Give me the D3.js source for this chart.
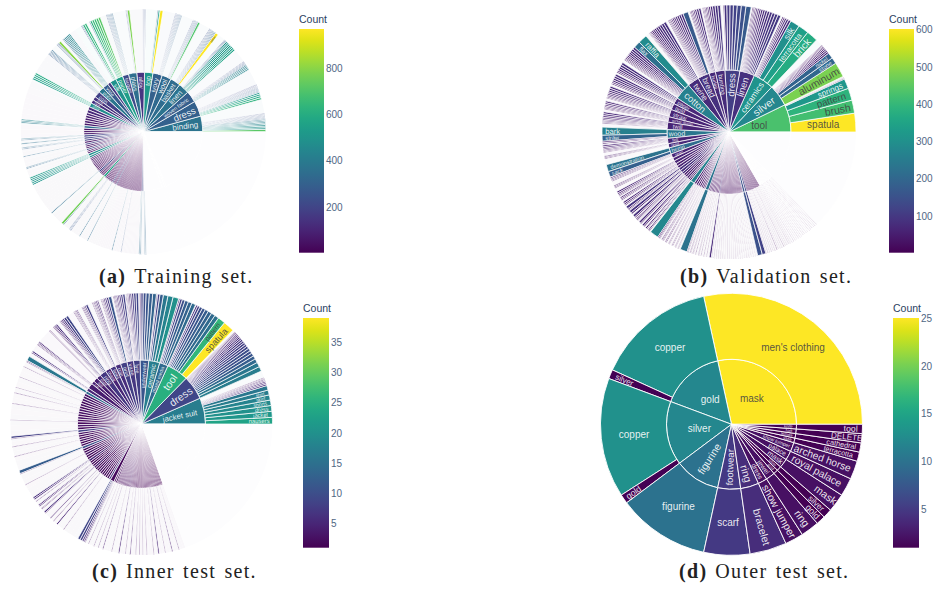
<!DOCTYPE html>
<html>
<head>
<meta charset="utf-8">
<script src="https://cdnjs.cloudflare.com/ajax/libs/d3/7.8.5/d3.min.js"></script>
<style>
  html, body { margin: 0; padding: 0; background: #fff; }
  text { font-family: "Liberation Sans", Arial, sans-serif; }
  .caption { font-family: "Liberation Serif", serif; font-size: 20px; fill: #222; letter-spacing: 1.3px; word-spacing: 2px; }
  .cbar text { font-size: 10px; fill: #506784; }
  .cbar-title { font-size: 10.5px; fill: #2a3f5f; }
</style>
</head>
<body>
<svg id="chart" width="935" height="589"></svg>
<script>
// every parent: name, count (colour), total (angle), visible leaves.
// whatever is left of total is the long tail of tiny labels, drawn as one pale wedge
const trainNames = ["binding","dress","woven fabric","linen","basket","wool","ivory","top","alloy","glass","lacquer","paper","silk","bowl","vase","plate","coin","print","lace","shoe","hat","belt","ring","mask","tile","cup","doll","comb","jar","box","fan"];
const trainCounts = [370,300,290,370,340,330,300,520,150,350,220,540,490,160,280,380,190,140,130,470,120,110,90,85,75,70,65,330,60,55,60,
  200,190,180,50,180,50,45,220,45,40,480,470,50,45,
  40,38,42,36,35,40,34,32,36,210,30,28,26,28,570,24,26,22,22,20,18,20,200,18,17,16,210,
  15,15,14,14,13,13,12,12,11,11,11,10,10,10,12,10,10,9,9,9,9,8,8,8,7,7,7,8,7,7,7,6,6,6,6,200,180,
  null,null,null,null];
const trainTotals = [9750,9750,7150,6825,6500,5850,5850,5200,4875,5200,3900,4550,3900,1950,3575,3575,3900,2275,2275,2600,1950,1950,1625,1625,1625,1625,1625,1625,1430,1430,1365,
  1430,1300,1300,1300,1170,1170,1105,1105,1040,1105,1300,1300,975,975,
  845,845,845,845,845,845,845,845,845,1170,780,780,780,780,1430,780,780,780,715,715,715,715,780,650,650,650,650,
  520,520,520,520,520,520,520,520,520,520,520,520,520,520,520,455,455,455,455,455,390,390,390,390,390,390,390,390,390,390,390,390,390,390,390,650,650,
  11700,1800,800,43000];
const trainLeaves = [
  [720,500,480,470,440,420,400,380,300,280,270,260,250,240,230],
  [620,590,560,520,300,290,280,270,260,250,240,230,220,210],
  [440,430,420,410,300,280,260,240,230],
  [560,550,540,530,520,510,500,300,280,260],
  [970,330,310,300,290,280,270,260,250],
  [700,300,290,280,270,260,250],
  [310,300,290,280,270,260,250,240],
  [960,540,260],
  [260,250,240,230],
  [780,260,250],
  [330,320,310,300,290,280,270],
  [720,690,660,650,620,300],
  [640,620,300,280],
  [],
  [450,440,430,420,400,380,300],
  [800,290,280,270],
  [330,320,310,300,290,280],
  [],[],
  [590,570,560,540],
  [],[],[],[],[],[],[],
  [440,420,400],
  [],[],[],
  [360,330],[350],[340,300],[],[330],[],[],[340,310],[],[],
  [530,510,500],[520,500],[],[],
  [],[],[],[],[],[],[],[],[],[340],[],[],[],[],[760,300],[],[],[270,260,250],[],[],[],[],[340],[],[],[],[330],
  [],[],[],[],[],[],[],[],[],[],[],[],[],[],[330],[],[],[],[],[],[250],[],[],[],[],[],[],[],[],[],[],[],[],[],[340],[340],
  [],[320,320],[],[]
];
const trainLeafNames = [["earthenware"],[],[],[],["saber"],[],[],["woodblock painting"],[],["ceramic"]];

const validNames = ["tool","silver","ceramics","linen","dress","bunting","burlap","bread","twine","cotton","paper","gold","straw","wicker design","twill","wood","felt","reed","hemp","pearl","jade"];
const validCounts = [430,280,310,85,110,75,70,85,75,260,70,65,60,55,60,240,60,70,210,60,55,
  60,50,55,80,80,75,45,50,50,40,40,260,45,40,40,35,35,30,30,230,30,30,30,28,28,26,26,25,70,
  20,20,20,18,18,18,18,18,18,18,16,16,16,16,16,16,14,14,14,14,14,150,120,
  14,14,14,12,12,12,12,12,10,10,10,10,10,10,10,null,null,null,null,null,null,null,null,null,null,null,null,null,null,null,null,null,null];
const validTotals = [1820,1435,1365,980,980,630,420,770,770,1120,420,420,490,350,490,570,350,280,420,280,210,
  210,175,175,175,175,140,140,140,140,105,105,280,140,130,120,120,110,100,90,210,90,90,90,90,90,90,90,90,80,
  70,70,70,70,70,70,70,70,70,70,70,70,70,70,70,70,70,70,70,70,70,150,120,
  60,60,60,60,60,60,60,60,60,60,60,60,60,60,60,60,60,60,60,60,60,60,60,60,60,60,60,60,60,60,60,60,3200];
const validLeaves = [
  [600,420,390,320,30,20,15],
  [480,200,190,60,55,50,45,40,35,30,25],
  [370,340,300,80,70,60,50,45],
  [100,95,90,85,80,75,70,65,60,55,50,45,40,35],
  [170,150,130,120,110,100,90,30],
  [90,85,80,70,60,50,45,40,35,30],
  [75,70,60,50,45,40,30],
  [170,75,70,65,60,55,50,45,40,35,30],
  [85,80,75,70,65,60,55,50,40,30,25,20],
  [290,220,75,70,65,60,55,50,45,40,35,30],
  [80,75,70,60,50,40],
  [75,70,65,60,50,40],
  [70,65,60,55,50,45,40,30],
  [60,55,50,45,40,30],
  [65,60,55,50,45,40,35,30],
  [260,190,50,40],
  [55,50,45,40,35,30],
  [40,35,30],
  [230,180],
  [45,40,35,30],
  [40,35,30],
  [60,50,40,30],[50,40,35],[60,50,35],[90,45,30],[85,50],[80,40],[45,35,25],[70,35],[65,40],[50,30],[45,30],
  [280],
  [40,35,25],[35,30,25],[35,30],[30,25],[30,25],[28,22],[26,20],
  [230],
  [30,22],[30,20],[28,20],[28],[26,20],[25],[25],[24],[70],
  [20],[20],[18],[18],[18],[16],[16],[20],[18],[16],[16],[18],[16],[16],[14],[14],[16],[14],[14],[14],[14],
  [150],[120],
  [20],[20],[18],[18],[16],[16],[26],[15],[14],[14],[22],[14],[12],[18],[12],[12],[16],[12],[10],[14],[10],[10],[12],[10],[10],[10],[10],[12],[10],[10],[10],[10],[]
];
const validLeafNames = [["spatula","brush","pattern","springs"],["aluminum","stone","nickel"],["brick","terracotta","silk"],[],[],[],[],[],[],["raffia","flax"],
  [],[],[],[],[],["bark","straw"],[],[],["demonstration","sack"]];

const innerNames = ["jacket suit","dress","tool","mixed media","ceramic","underwear","lyre","vase","print","coin","bowl","mask","ring","plate","doll","cup"];
const innerCounts = [17,9,25,14,17,11,8,7,8,6,7,5,7,5,4,4,4,5,14,
  3,3,3,2,3,2,3,3,2,3,2,2,3,2,8,3,2,2,3,2,2,10,2,2,3,2,2,5,2,2,2,4,2,2,3,2,2,2,2,2,7,2,2,2,
  2,2,2,2,2,2,2,2,2,2,2,3,2,2,1,1,2,1,1,1,1,1,1,1,1,
  1,1,1,1,1,1,1,1,1,1,1,1,1,1,1,1,1,1,null];
const innerTotals = [187,172,156,62,78,62,47,47,47,39,39,39,47,31,31,23,39,23,20,
  19,19,19,19,19,19,19,19,19,19,19,19,19,19,19,17,17,17,17,17,17,19,17,17,17,17,17,17,15,15,15,15,15,15,15,15,15,15,15,15,14,12,12,12,
  8,8,8,8,8,8,8,8,8,8,8,8,8,8,8,8,8,8,6,6,6,6,6,6,6,
  8,8,8,8,8,8,8,8,8,8,8,8,8,8,8,8,8,8,553];
const innerLeaves = [
  [23,21,20,19,18,17,16,6,5,5,4,4,3,3],
  [17,16,14,12,11,10,10,9,8,8,7,7,6,6,5,5,4,4,3,3],
  [39,26,15,14,13,12,11,10,8,6],
  [14,13,12,10,8,5],
  [20,18,16,12,8,4],
  [13,12,11,10,8,5,3],
  [9,8,7,6,5,4,3,3],
  [8,7,6,5,5,4,4,3],
  [11,7,6,5,4,3,3],
  [5,5,4,4,3,3],
  [8,5,4,4,3],
  [4,4,3,3,3],
  [9,8,6,5,4,3],
  [6,5,4,3],
  [3,3],
  [],
  [5,4,3,3],
  [6,4],
  [16,4],
  [3],[3],[],[3],[],[3],[3],[],[3],[],[],[3],[],[],
  [8,3],[],[3],[],[3],[],[],
  [12,3],[],[],[3],[],[],[6,5],[3],[5,4],[3,3],[6,3],[],[4],[3],[5],[],[3],[],[],[],
  [9,8,6,5],[3],[3],[],
  [3],[],[3],[],[4],[],[],[],[3],[],[],[5],[],[],[3],[],[4],[],[],[3],[],[3],[],[3],[],[3],[],
  [],[3],[],[5],[],[],[3],[],[],[4],[],[],[3],[],[],[],[3],[],[]
];
const innerLeafNames = [["nausers","jacket","dress","shorts","skirt","shirt"],[],["spatula","pattern"]];

const outerNames = ["mask","gold","silver","figurine","footwear","ring","dress","jewel","gold","silver","mask","palace","show jumper","vase","temple","fork","knife"];
const outerCounts = [25,12.1,12.1,10,5,4,2,2,1,1,2,2,2,1,1,1,1];
const outerLeaves = [[25],[13,1],[13,1],[10],[5],[4],[2],[2],[1],[1],[2],[2],[2],[1],[1],[1],[1]];
const outerLeafNames = [["men's clothing"],["copper","silver"],["copper","gold"],["figurine"],["scarf"],["bracelet"],["show jumper"],["ring"],["gold"],["silver"],["mask"],["royal palace"],["arched horse"],["terracotta"],["cathedral"],["DELETE"],["tool"]];
const outerTotals = outerLeaves.map(l => d3.sum(l));

const trainTicks = [200,400,600,800];
const validTicks = [100,200,300,400,500,600];
const innerTicks = [5,10,15,20,25,30,35];
const outerTicks = [5,10,15,20,25];

const svg = d3.select("#chart");

function buildTree(names, counts, totals, leaves, leafNames) {
  return {
    children: totals.map((t, i) => {
      const ls = leaves[i] || [];
      const kids = ls.map((v, j) => ({ name: (leafNames[i] || [])[j] || "", value: v, count: v }));
      const rest = t - d3.sum(ls);
      if (rest > 0) kids.push({ name: "", value: rest, count: counts[i], rest: true });
      return { name: names[i] || "", count: counts[i], children: kids };
    })
  };
}

function drawSunburst(p) {
  const color = d3.scaleSequential(d3.interpolateViridis).domain(p.domain);
  const g = svg.append("g").attr("transform", `translate(${p.cx},${p.cy})`);
  const root = d3.hierarchy(buildTree(p.names, p.counts, p.totals, p.leaves, p.leafNames)).sum(d => d.value || 0);
  d3.partition().size([2 * Math.PI, 1])(root);
  const radius = d3.scaleLinear().domain([1, 2, 3]).range([0, p.rIn, p.R]);
  const nodes = root.descendants().filter(d => d.depth > 0);

  const arc = d3.arc()
    .startAngle(d => Math.PI / 2 - d.x0)
    .endAngle(d => Math.PI / 2 - d.x1)
    .innerRadius(d => radius(d.depth))
    .outerRadius(d => radius(d.depth + 1));

  const fillOf = d => {
    if (d.data.count == null) return "#fdfdfe";
    const c = color(d.data.count);
    return d.data.rest ? d3.interpolateRgb(c, "#fff")(0.97) : c;
  };

  // thin inner strips keep their colour, so their line shrinks with them
  const strokeOf = d => {
    if (d.data.rest) return 0;
    if (d.depth === 1) return Math.min(p.stroke, 0.45 * (d.x1 - d.x0) * p.rIn);
    return p.stroke;
  };

  g.selectAll("path")
    .data(nodes)
    .enter()
    .append("path")
    .attr("d", arc)
    .attr("fill", fillOf)
    .attr("stroke", "#fff")
    .attr("stroke-width", strokeOf);

  nodes.filter(d => d.data.name).forEach(d => {
    const lab = fitLabel(d, radius(d.depth), radius(d.depth + 1));
    if (!lab) return;
    const frac = (d.data.count - p.domain[0]) / (p.domain[1] - p.domain[0]);
    g.append("text")
      .attr("transform", lab.transform)
      .attr("text-anchor", "middle")
      .attr("dy", "0.35em")
      .attr("font-size", lab.size)
      .attr("fill", frac > 0.64 ? "#444" : "#fff")
      .attr("fill-opacity", 0.9)
      .text(d.data.name);
  });
}

// horizontal if the box sits inside the wedge, else radial and shrunk to fit
function fitLabel(d, r0, r1) {
  const n = d.data.name.length, dTheta = d.x1 - d.x0, mid = (d.x0 + d.x1) / 2, rMid = (r0 + r1) / 2;
  const hSize = 10;
  const w = n * hSize * 0.5 * 0.8, h = hSize * 0.65;
  const cx = rMid * Math.cos(mid), cy = rMid * Math.sin(mid);
  let fits = true;
  [[-1,-1],[1,-1],[-1,1],[1,1]].forEach(c => {
    const x = cx + c[0] * w / 2, y = cy + c[1] * h / 2;
    const r = Math.hypot(x, y);
    let a = Math.atan2(y, x);
    if (a < 0) a += 2 * Math.PI;
    if (r < r0 + 1 || r > r1 - 1 || a < d.x0 || a > d.x1) fits = false;
  });
  if (fits) return { size: hSize, transform: `translate(${cx},${-cy})` };

  for (let s = 10.5; s >= 3; s -= 0.2) {
    const len = n * s * 0.5;
    const innerEnd = r1 - 3 - len;
    if (innerEnd < r0 + 1) continue;
    if (innerEnd * dTheta < s * 0.9) continue;
    const rc = r1 - 3 - len / 2;
    const deg = mid * 180 / Math.PI;
    const flip = deg > 90 && deg < 270;
    return {
      size: s,
      transform: `translate(${rc * Math.cos(mid)},${-rc * Math.sin(mid)}) rotate(${flip ? 180 - deg : -deg})`
    };
  }
  return null;
}

function drawColorbar(c) {
  const id = "grad" + c.x;
  const grad = svg.append("defs").append("linearGradient").attr("id", id)
    .attr("x1", 0).attr("x2", 0).attr("y1", 1).attr("y2", 0);
  d3.range(0, 1.001, 0.05).forEach(t => {
    grad.append("stop").attr("offset", t).attr("stop-color", d3.interpolateViridis(t));
  });
  svg.append("rect").attr("x", c.x).attr("y", c.top).attr("width", c.w).attr("height", c.bottom - c.top).attr("fill", `url(#${id})`);
  const y = d3.scaleLinear().domain(c.domain).range([c.bottom, c.top]);
  const axis = d3.axisRight(y).tickValues(c.ticks).tickSize(0).tickPadding(2);
  svg.append("g")
    .attr("class", "cbar")
    .attr("transform", `translate(${c.x + c.w},0)`)
    .call(axis)
    .call(s => s.select(".domain").remove());
  svg.append("text").attr("class", "cbar-title").attr("x", c.x).attr("y", c.top - 6).text("Count");
}

function drawCaption(x, y, tag, rest) {
  const t = svg.append("text").attr("class", "caption").attr("x", x).attr("y", y);
  t.append("tspan").attr("font-weight", "bold").text(tag);
  t.append("tspan").attr("dx", 8).text(rest);
}

drawSunburst({ cx: 143.3, cy: 131.7, R: 122.5, rIn: 59.5, stroke: 0.75, domain: [1, 971],
  names: trainNames, counts: trainCounts, totals: trainTotals, leaves: trainLeaves, leafNames: trainLeafNames });
drawSunburst({ cx: 729, cy: 132, R: 127, rIn: 62, stroke: 0.75, domain: [1, 602],
  names: validNames, counts: validCounts, totals: validTotals, leaves: validLeaves, leafNames: validLeafNames });
drawSunburst({ cx: 141.5, cy: 424, R: 131, rIn: 64, stroke: 0.75, domain: [1, 39],
  names: innerNames, counts: innerCounts, totals: innerTotals, leaves: innerLeaves, leafNames: innerLeafNames });
drawSunburst({ cx: 731.5, cy: 424.3, R: 131, rIn: 65, stroke: 0.9, domain: [1, 25],
  names: outerNames, counts: outerCounts, totals: outerTotals, leaves: outerLeaves, leafNames: outerLeafNames });

drawColorbar({ x: 299, w: 25, top: 29, bottom: 252.7, domain: [1, 971], ticks: trainTicks });
drawColorbar({ x: 889, w: 25, top: 29, bottom: 252.7, domain: [1, 602], ticks: validTicks });
drawColorbar({ x: 303, w: 26, top: 318, bottom: 547.7, domain: [1, 39], ticks: innerTicks });
drawColorbar({ x: 893, w: 26, top: 318, bottom: 547.7, domain: [1, 25], ticks: outerTicks });

drawCaption(99, 283, "(a)", "Training set.");
drawCaption(680, 283, "(b)", "Validation set.");
drawCaption(92, 578, "(c)", "Inner test set.");
drawCaption(679, 578, "(d)", "Outer test set.");
</script>
</body>
</html>
